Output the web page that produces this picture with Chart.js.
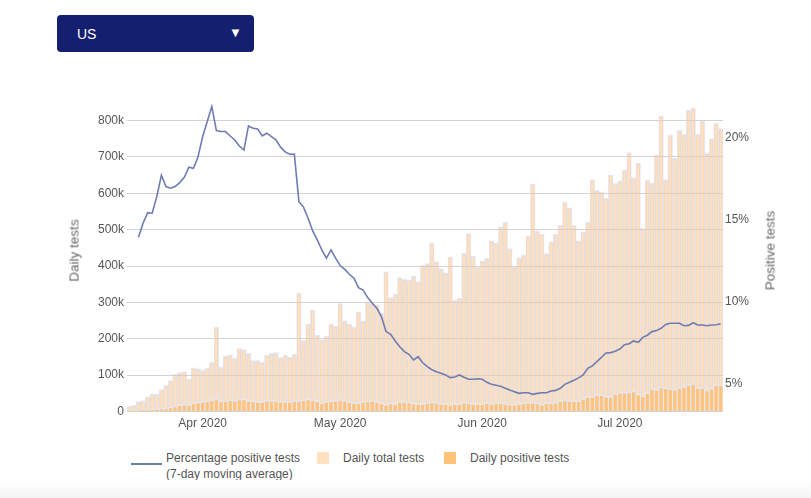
<!DOCTYPE html>
<html>
<head>
<meta charset="utf-8">
<script src="https://cdn.jsdelivr.net/npm/chart.js@4.4.1/dist/chart.umd.min.js"></script>
<style>
  html, body { margin: 0; padding: 0; background: #fff; }
  body { width: 811px; height: 498px; position: relative; overflow: hidden; font-family: 'Liberation Sans', Arial, sans-serif; color: #555; }
  #dropdown { position: absolute; left: 57px; top: 15px; width: 197px; height: 37px; background: #141f6f; border-radius: 4px; color: #fff; font-size: 14px; }
  #dropdown .val { position: absolute; left: 20px; top: 11px; }
  #dropdown .arr { position: absolute; left: 172px; top: 10px; font-size: 13px; }
  #wrap { position: absolute; left: 0; top: 0; width: 811px; height: 442px; }
  .ytitle { position: absolute; font-size: 13.5px; font-weight: 400; color: #666; white-space: nowrap; transform-origin: center center; -webkit-font-smoothing: antialiased; }
  .leg { position: absolute; font-size: 12px; color: #555; line-height: 16px; white-space: nowrap; }
  .sw { position: absolute; width: 12px; height: 12px; }
  #foot { position: absolute; left: 0; top: 480px; width: 811px; height: 18px; background: linear-gradient(#ffffff, #f4f4f4); }
</style>
</head>
<body>
<div id="dropdown"><span class="val">US</span><span class="arr">&#9660;</span></div>
<div id="wrap"><canvas id="c"></canvas></div>
<div class="ytitle" id="ltitle" style="left:39px; top:243px; width:70px; text-align:center; transform: rotate(-90deg);">Daily tests</div>
<div class="ytitle" id="rtitle" style="left:725px; top:243px; width:90px; text-align:center; transform: rotate(-90deg);">Positive tests</div>
<div id="legend">
  <div style="position:absolute; left:131px; top:463px; width:31px; height:2px; background:#6f7cb2;"></div>
  <div class="leg" style="left:166px; top:450px;">Percentage positive tests<br>(7-day moving average)</div>
  <div class="sw" style="left:317px; top:452px; background:#ffe1bf;"></div>
  <div class="leg" style="left:343px; top:450px;">Daily total tests</div>
  <div class="sw" style="left:444px; top:452px; background:#ffc378;"></div>
  <div class="leg" style="left:470px; top:450px;">Daily positive tests</div>
</div>
<div id="foot"></div>
<script>
const dates = [
 "2020-03-16","2020-03-17","2020-03-18","2020-03-19","2020-03-20","2020-03-21","2020-03-22","2020-03-23","2020-03-24","2020-03-25","2020-03-26","2020-03-27","2020-03-28","2020-03-29","2020-03-30","2020-03-31",
 "2020-04-01","2020-04-02","2020-04-03","2020-04-04","2020-04-05","2020-04-06","2020-04-07","2020-04-08","2020-04-09","2020-04-10","2020-04-11","2020-04-12","2020-04-13","2020-04-14","2020-04-15","2020-04-16","2020-04-17","2020-04-18","2020-04-19","2020-04-20","2020-04-21","2020-04-22","2020-04-23","2020-04-24","2020-04-25","2020-04-26","2020-04-27","2020-04-28","2020-04-29","2020-04-30",
 "2020-05-01","2020-05-02","2020-05-03","2020-05-04","2020-05-05","2020-05-06","2020-05-07","2020-05-08","2020-05-09","2020-05-10","2020-05-11","2020-05-12","2020-05-13","2020-05-14","2020-05-15","2020-05-16","2020-05-17","2020-05-18","2020-05-19","2020-05-20","2020-05-21","2020-05-22","2020-05-23","2020-05-24","2020-05-25","2020-05-26","2020-05-27","2020-05-28","2020-05-29","2020-05-30","2020-05-31",
 "2020-06-01","2020-06-02","2020-06-03","2020-06-04","2020-06-05","2020-06-06","2020-06-07","2020-06-08","2020-06-09","2020-06-10","2020-06-11","2020-06-12","2020-06-13","2020-06-14","2020-06-15","2020-06-16","2020-06-17","2020-06-18","2020-06-19","2020-06-20","2020-06-21","2020-06-22","2020-06-23","2020-06-24","2020-06-25","2020-06-26","2020-06-27","2020-06-28","2020-06-29","2020-06-30",
 "2020-07-01","2020-07-02","2020-07-03","2020-07-04","2020-07-05","2020-07-06","2020-07-07","2020-07-08","2020-07-09","2020-07-10","2020-07-11","2020-07-12","2020-07-13","2020-07-14","2020-07-15","2020-07-16","2020-07-17","2020-07-18","2020-07-19","2020-07-20","2020-07-21","2020-07-22","2020-07-23"
];

// Daily total tests (thousands)
const totalTestsK = [
 15,17,27,30,40,48,48,60,72,85,103,107,110,90,120,118,
 113,120,135,232,122,153,156,147,173,170,160,140,140,135,155,160,162,148,155,149,157,326,195,240,279,210,198,207,241,235,
 297,249,240,233,274,249,302,296,293,270,384,313,323,368,364,361,372,357,402,407,464,412,393,381,425,306,311,436,489,427,398,
 414,421,469,464,508,521,448,398,423,431,483,625,497,487,434,467,487,512,576,560,512,469,494,521,638,608,604,586,650,627,
 634,663,712,643,684,503,636,628,705,813,638,761,696,773,762,828,835,762,799,711,750,793,778
];

// Daily positive tests (thousands)
const positiveTestsK = [
 1,1.5,2,3,4,5,6,8,10,12,15,18,20,19,24,26,
 27,29,32,34,29,30,32,31,34,34,31,29,27,28,31,31,30,28,27,27,29,30,32,34,33,29,24,27,29,31,
 33,30,26,24,24,27,29,30,27,24,20,23,22,27,27,26,23,22,22,24,26,25,22,21,19,22,21,25,24,22,22,
 21,24,22,24,24,22,20,20,22,24,25,25,23,20,24,24,25,29,32,30,29,29,36,41,41,46,46,42,41,49,
 52,53,54,56,48,43,52,62,61,67,65,62,61,66,68,74,77,66,66,59,64,73,73
];

// Percentage positive tests, 7-day moving average (%)
const positivePct = [
 null,null,13.93,14.79,15.43,15.40,16.41,17.71,17.02,16.92,17.02,17.26,17.59,18.20,18.13,18.84,
 20.06,20.98,21.89,20.43,20.37,20.37,20.10,19.86,19.49,19.25,20.71,20.57,20.53,20.10,20.27,20.06,19.86,19.42,19.13,18.99,19.00,16.10,15.77,15.09,14.32,13.77,13.16,12.66,13.16,12.66,
 12.21,11.98,11.68,11.44,10.87,10.72,10.26,9.91,9.61,9.10,8.19,8.02,7.62,7.27,6.97,6.81,6.46,6.66,6.29,6.06,5.87,5.75,5.65,5.55,5.39,5.43,5.55,5.41,5.29,5.29,5.32,
 5.29,5.10,4.98,4.92,4.86,4.74,4.63,4.53,4.43,4.47,4.47,4.37,4.43,4.47,4.47,4.57,4.61,4.74,4.98,5.10,5.23,5.37,5.55,5.95,6.10,6.36,6.63,6.89,6.91,6.99,
 7.13,7.39,7.45,7.62,7.54,7.84,7.97,8.19,8.25,8.39,8.63,8.70,8.70,8.70,8.55,8.57,8.73,8.59,8.59,8.55,8.59,8.61,8.67
];

const leftTicks = [0, 100000, 200000, 300000, 400000, 500000, 600000, 700000, 800000];
const rightTicks = [5, 10, 15, 20];
const monthNames = ["Jan","Feb","Mar","Apr","May","Jun","Jul","Aug","Sep","Oct","Nov","Dec"];

Chart.defaults.font.family = "'Liberation Sans', Arial, sans-serif";
Chart.defaults.font.size = 12;
Chart.defaults.color = '#555';

new Chart(document.getElementById('c'), {
  type: 'bar',
  data: {
    labels: dates,
    datasets: [
      {
        type: 'line',
        label: 'Percentage positive tests (7-day moving average)',
        data: positivePct,
        yAxisID: 'y1',
        borderColor: '#6f7cb2',
        borderWidth: 1.6,
        pointRadius: 0,
        tension: 0,
        spanGaps: false,
        order: 0
      },
      {
        label: 'Daily positive tests',
        data: positiveTestsK.map(v => v * 1000),
        yAxisID: 'y',
        backgroundColor: 'rgb(255,195,125)',
        borderColor: 'rgb(228,233,248)',
        borderWidth: {left: 0.9, right: 0.9, top: 1.5, bottom: 0},
        borderSkipped: false,
        barPercentage: 1,
        categoryPercentage: 1,
        grouped: false,
        order: 1
      },
      {
        label: 'Daily total tests',
        data: totalTestsK.map(v => v * 1000),
        yAxisID: 'y',
        backgroundColor: 'rgba(255,195,127,0.5)',
        borderColor: 'rgba(205,214,242,0.55)',
        borderWidth: {left: 0.9, right: 0.9, top: 1.5, bottom: 0},
        borderSkipped: false,
        barPercentage: 1,
        categoryPercentage: 1,
        grouped: false,
        order: 2
      }
    ]
  },
  options: {
    responsive: true,
    maintainAspectRatio: false,
    animation: false,
    layout: { padding: { top: 90, left: 0, right: 0, bottom: 0 } },
    plugins: { legend: { display: false }, tooltip: { enabled: false } },
    scales: {
      x: {
        type: 'category',
        offset: true,
        grid: { display: false, drawTicks: false },
        border: { display: false },
        ticks: {
          autoSkip: false,
          maxRotation: 0,
          minRotation: 0,
          padding: 5,
          color: '#555',
          callback: function (v, i) {
            const d = dates[i];
            if (d && d.endsWith('-01')) {
              return monthNames[parseInt(d.slice(5, 7), 10) - 1] + ' ' + d.slice(0, 4);
            }
            return '';
          }
        },
        afterFit: s => { s.height = 30.5; }
      },
      y: {
        position: 'left',
        min: 0,
        max: 884000,
        grid: { color: '#d3d3d3', drawTicks: false, lineWidth: 1 },
        border: { display: false },
        ticks: {
          padding: 3,
          color: '#555',
          callback: v => v === 0 ? '0' : (v / 1000) + 'k'
        },
        afterBuildTicks: s => { s.ticks = leftTicks.map(v => ({ value: v })); },
        afterFit: s => { s.width = 127; }
      },
      y1: {
        position: 'right',
        min: 3.325,
        max: 22.9,
        grid: { display: false, drawTicks: false },
        border: { display: false },
        ticks: {
          padding: 2,
          color: '#555',
          callback: v => v + '%'
        },
        afterBuildTicks: s => { s.ticks = rightTicks.map(v => ({ value: v })); },
        afterFit: s => { s.width = 88; }
      }
    }
  }
});
</script>
</body>
</html>
